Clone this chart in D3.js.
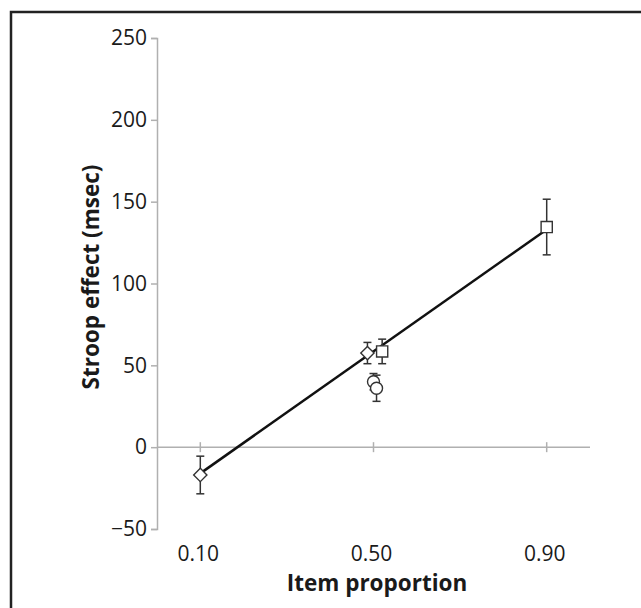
<!DOCTYPE html>
<html>
<head>
<meta charset="UTF-8">
<style>
  body { margin: 0; background: #fff; }
  svg { display: block; }
  text { font-family: "Open Sans", "Liberation Sans", sans-serif; fill: #1a1a1a; }
</style>
</head>
<body>
<svg width="641" height="608"></svg>
<script src="https://d3js.org/d3.v7.min.js"></script>
<script>
// data
const xTicks = [0.10, 0.50, 0.90];
const yTicks = [-50, 0, 50, 100, 150, 200, 250];

const diamondX = [0.10, 0.486];
const diamondY = [-17, 57.5];
const diamondErr = [11.5, 6.5];

const squareX = [0.52, 0.90];
const squareY = [58.5, 134.5];
const squareErr = [7.5, 17];

const circleX = [0.50, 0.507];
const circleY = [40, 36];
const circleErr = [5, 8];

const trendX = [0.10, 0.90];
const trendY = [-16, 133];

const svg = d3.select("svg");

// outer frame
svg.append("rect")
  .attr("x", 11).attr("y", 12)
  .attr("width", 700).attr("height", 700)
  .attr("fill", "none")
  .attr("stroke", "#222")
  .attr("stroke-width", 2.5);

const x = d3.scaleLinear().domain([0, 1]).range([157, 590]);
const y = d3.scaleLinear().domain([-50, 250]).range([529, 38]);

const axisColor = "#b0b0b0";

// y axis
const yAxis = svg.append("g")
  .attr("transform", `translate(${x(0)},0)`)
  .call(d3.axisLeft(y).tickValues(yTicks).tickSize(6).tickPadding(4)
    .tickFormat(d => d < 0 ? "\u221250" : d));
yAxis.select(".domain").attr("stroke", axisColor).attr("stroke-width", 1.5);
yAxis.selectAll(".tick line").attr("stroke", axisColor).attr("stroke-width", 1.5);
yAxis.selectAll(".tick text")
  .style("font-size", "21px")
  .attr("fill", "#1a1a1a");

// x axis line at zero
svg.append("line")
  .attr("x1", x(0)).attr("x2", x(1))
  .attr("y1", y(0)).attr("y2", y(0))
  .attr("stroke", axisColor).attr("stroke-width", 1.5);

svg.append("g").selectAll("line")
  .data(xTicks).join("line")
  .attr("x1", d => x(d)).attr("x2", d => x(d))
  .attr("y1", y(0) - 5).attr("y2", y(0) + 5)
  .attr("stroke", axisColor).attr("stroke-width", 1.5);

svg.append("g").selectAll("text")
  .data(xTicks).join("text")
  .attr("x", d => x(d) - 2)
  .attr("y", 561)
  .attr("text-anchor", "middle")
  .style("font-size", "21px")
  .text(d => d3.format(".2f")(d));

// axis titles
svg.append("text")
  .attr("x", 377).attr("y", 591)
  .attr("text-anchor", "middle")
  .style("font-size", "22.5px")
  .style("font-weight", "bold")
  .text("Item proportion");

svg.append("text")
  .attr("transform", `translate(99,277) rotate(-90)`)
  .attr("text-anchor", "middle")
  .style("font-size", "22.5px")
  .style("font-weight", "bold")
  .text("Stroop effect (msec)");

// trend line
svg.append("line")
  .attr("x1", x(trendX[0])).attr("y1", y(trendY[0]))
  .attr("x2", x(trendX[1])).attr("y2", y(trendY[1]))
  .attr("stroke", "#111").attr("stroke-width", 2.5);

const markColor = "#333";

function errorBars(xs, ys, es) {
  const g = svg.append("g").attr("stroke", markColor).attr("stroke-width", 1.5);
  xs.forEach((xv, i) => {
    const cx = x(xv), top = y(ys[i] + es[i]), bot = y(ys[i] - es[i]);
    g.append("line").attr("x1", cx).attr("x2", cx).attr("y1", top).attr("y2", bot);
    g.append("line").attr("x1", cx - 4).attr("x2", cx + 4).attr("y1", top).attr("y2", top);
    g.append("line").attr("x1", cx - 4).attr("x2", cx + 4).attr("y1", bot).attr("y2", bot);
  });
}

errorBars(diamondX, diamondY, diamondErr);
errorBars(squareX, squareY, squareErr);
errorBars(circleX, circleY, circleErr);

const sym = (type, size) => d3.symbol().type(type).size(size);

svg.append("g").selectAll("path")
  .data(diamondX).join("path")
  .attr("transform", (d, i) => `translate(${x(d)},${y(diamondY[i])}) rotate(45)`)
  .attr("d", sym(d3.symbolSquare, 88)())
  .attr("fill", "#fff").attr("stroke", markColor).attr("stroke-width", 1.4);

svg.append("g").selectAll("path")
  .data(squareX).join("path")
  .attr("transform", (d, i) => `translate(${x(d)},${y(squareY[i])})`)
  .attr("d", sym(d3.symbolSquare, 125)())
  .attr("fill", "#fff").attr("stroke", markColor).attr("stroke-width", 1.4);

svg.append("g").selectAll("circle")
  .data(circleX).join("circle")
  .attr("cx", d => x(d))
  .attr("cy", (d, i) => y(circleY[i]))
  .attr("r", 6)
  .attr("fill", "#fff").attr("stroke", markColor).attr("stroke-width", 1.4);
</script>
</body>
</html>
